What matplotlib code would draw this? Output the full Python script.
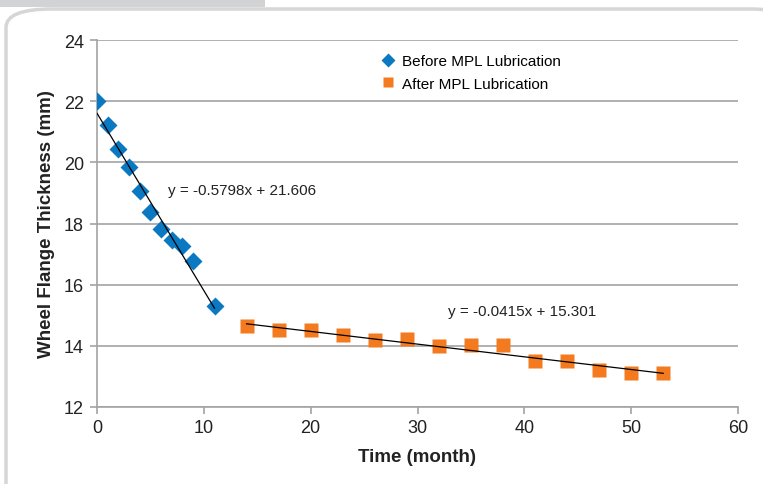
import numpy as np
import matplotlib
matplotlib.use('Agg')
import matplotlib.pyplot as plt
from matplotlib.patches import Rectangle, FancyBboxPatch

plt.rcParams['font.family'] = ['Liberation Sans', 'DejaVu Sans']

# Before MPL lubrication
t_before = [0, 1, 2, 3, 4, 5, 6, 7, 8, 9, 11]
th_before = [22.0, 21.22, 20.43, 19.85, 19.05, 18.36, 17.82, 17.46, 17.26, 16.78, 15.30]

# After MPL lubrication
t_after = [14, 17, 20, 23, 26, 29, 32, 35, 38, 41, 44, 47, 50, 53]
th_after = [14.64, 14.52, 14.52, 14.35, 14.19, 14.22, 13.99, 14.02, 14.02, 13.5, 13.5, 13.2, 13.1, 13.1]

# trend lines as printed on the chart
fit_before = (-0.5798, 21.606)
fit_after = (-0.0415, 15.301)

blue = '#0b79c2'
orange = '#f47a20'
grid_c = '#a3a3a3'

W, H = 763, 485
fig = plt.figure(figsize=(W / 100, H / 100), dpi=100)

# page decoration: grey tab and rounded frame
fig.patches.append(Rectangle((0, 1 - 8 / H), 265 / W, 8 / H, transform=fig.transFigure,
                             facecolor='#d1d3d4', edgecolor='none', zorder=0))
fig.patches.append(FancyBboxPatch((6 / W, -0.2), 790 / W, 1.2 - 10 / H,
                                  boxstyle='round,pad=0,rounding_size=0.06',
                                  transform=fig.transFigure, facecolor='white',
                                  edgecolor='#d6d6d6', lw=2.5, zorder=0.5,
                                  mutation_aspect=H / W))

ax = fig.add_axes([97 / W, 1 - 408 / H, (738 - 97) / W, (408 - 41) / H])
ax.set_zorder(2)
ax.patch.set_alpha(0)

ax.plot(t_before, th_before, 'D', color=blue, ms=9.5, mec='none',
        label='Before MPL Lubrication', zorder=3)
ax.plot(t_after, th_after, 's', color=orange, ms=9.5, mec='none',
        label='After MPL Lubrication', zorder=3)

xb = np.array([min(t_before), max(t_before)])
ax.plot(xb, fit_before[0] * xb + fit_before[1], color='black', lw=0.9, zorder=4)
xa = np.array([min(t_after), max(t_after)])
ax.plot(xa, fit_after[0] * xa + fit_after[1], color='black', lw=0.9, zorder=4)

ax.text(6.6, 19.1, 'y = -0.5798x + 21.606', fontsize=11, color='#222222', va='center')
ax.text(32.9, 15.15, 'y = -0.0415x + 15.301', fontsize=11, color='#222222', va='center')

ax.set_xlim(0, 60)
ax.set_ylim(12, 24)
ax.set_xticks(range(0, 61, 10))
ax.set_yticks(range(12, 25, 2))
ax.yaxis.grid(True, color=grid_c, lw=1.2)
ax.set_axisbelow(True)
for s in ['top', 'right']:
    ax.spines[s].set_visible(False)
for s in ['left', 'bottom']:
    ax.spines[s].set_color(grid_c)
    ax.spines[s].set_linewidth(1.2)
ax.tick_params(colors=grid_c, labelcolor='#222222', labelsize=13, length=5, width=1.2)
ax.tick_params(axis='y', pad=4.5)

ax.set_xlabel('Time (month)', fontsize=13.5, fontweight='bold', color='#222222', labelpad=9)
ax.set_ylabel('Wheel Flange Thickness (mm)', fontsize=13.5, fontweight='bold', color='#222222', labelpad=6)

ax.legend(loc='upper left', bbox_to_anchor=(0.426, 0.99), frameon=False, fontsize=11,
          handletextpad=0.4, labelspacing=0.55, handlelength=1.0, borderaxespad=0.3,
          markerscale=0.8)

fig.savefig('out.png', dpi=100)
